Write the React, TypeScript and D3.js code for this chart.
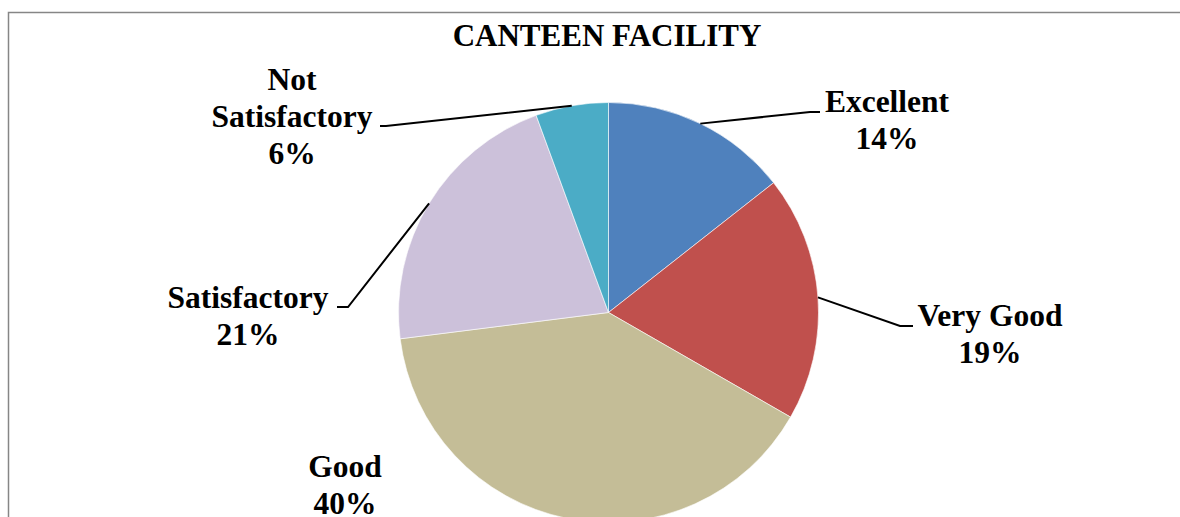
import * as d3 from "d3";
import React, { useEffect, useRef } from "react";

// chart data
const categories = ["Excellent", "Very Good", "Good", "Satisfactory", "Not Satisfactory"];
const values = [14.4, 18.9, 39.7, 21.4, 5.6];
const colors = ["#4F81BD", "#C0504D", "#C4BD97", "#CCC1DA", "#4BACC6"];
const labelLines = [["Excellent"], ["Very Good"], ["Good"], ["Satisfactory"], ["Not", "Satisfactory"]];
const title = "CANTEEN FACILITY";

// label layout: text centre / baseline of the first line, elbow of the leader line
const labelLayout = [
  { x: 887, y: 112, elbow: [810, 112], end: [820, 112] },
  { x: 990, y: 326, elbow: [900, 326], end: [913, 326] },
  { x: 345, y: 477, elbow: null, end: null },
  { x: 248, y: 308, elbow: [348, 307], end: [337, 307] },
  { x: 292, y: 90, elbow: [386, 126], end: [380, 126] },
];

function PieChart() {
  const ref = useRef<SVGSVGElement>(null);

  useEffect(() => {
    const width = 1180;
    const height = 517;
    const cx = 608.5;
    const cy = 312.5;
    const radius = 210;
    const lineHeight = 37;

    const svg = d3.select(ref.current);
    svg.selectAll("*").remove();
    svg.attr("width", width).attr("height", height);

    svg
      .append("rect")
      .attr("x", 8.5)
      .attr("y", 12.5)
      .attr("width", width + 20)
      .attr("height", height + 20)
      .attr("fill", "white")
      .attr("stroke", "#868686")
      .attr("stroke-width", 1.5);

    const total = d3.sum(values);
    const pie = d3
      .pie<number>()
      .sort(null)
      .value((d) => d);
    const arcs = pie(values);

    const arc = d3.arc<d3.PieArcDatum<number>>().innerRadius(0).outerRadius(radius);
    const edgeArc = d3.arc<d3.PieArcDatum<number>>().innerRadius(radius).outerRadius(radius);

    const g = svg.append("g").attr("transform", `translate(${cx},${cy})`);
    g.selectAll("path")
      .data(arcs)
      .enter()
      .append("path")
      .attr("d", arc)
      .attr("fill", (d, i) => colors[i])
      .attr("stroke", "white")
      .attr("stroke-width", 0.6);

    // leader lines
    arcs.forEach((d, i) => {
      const lay = labelLayout[i];
      if (!lay.elbow) return;
      const [sx, sy] = edgeArc.centroid(d);
      const pts: [number, number][] = [
        [cx + sx, cy + sy],
        [lay.elbow[0], lay.elbow[1]],
        [lay.end[0], lay.end[1]],
      ];
      svg
        .append("path")
        .attr("d", d3.line()(pts))
        .attr("fill", "none")
        .attr("stroke", "black")
        .attr("stroke-width", 2);
    });

    const font = "'Liberation Serif', 'Times New Roman', serif";

    // data labels
    arcs.forEach((d, i) => {
      const lay = labelLayout[i];
      const lines = [...labelLines[i], `${Math.round((d.value / total) * 100)}%`];
      const text = svg
        .append("text")
        .attr("text-anchor", "middle")
        .attr("font-family", font)
        .attr("font-weight", "bold")
        .attr("font-size", 31.5)
        .attr("fill", "black");
      lines.forEach((line, j) => {
        text
          .append("tspan")
          .attr("x", lay.x)
          .attr("y", lay.y + j * lineHeight)
          .text(line);
      });
    });

    svg
      .append("text")
      .attr("x", 607)
      .attr("y", 46)
      .attr("text-anchor", "middle")
      .attr("font-family", font)
      .attr("font-weight", "bold")
      .attr("font-size", 31)
      .attr("fill", "black")
      .text(title);
  }, []);

  return <svg ref={ref} style={{ position: "absolute", left: 0, top: 0 }}></svg>;
}

export default function App() {
  return <PieChart />;
}
